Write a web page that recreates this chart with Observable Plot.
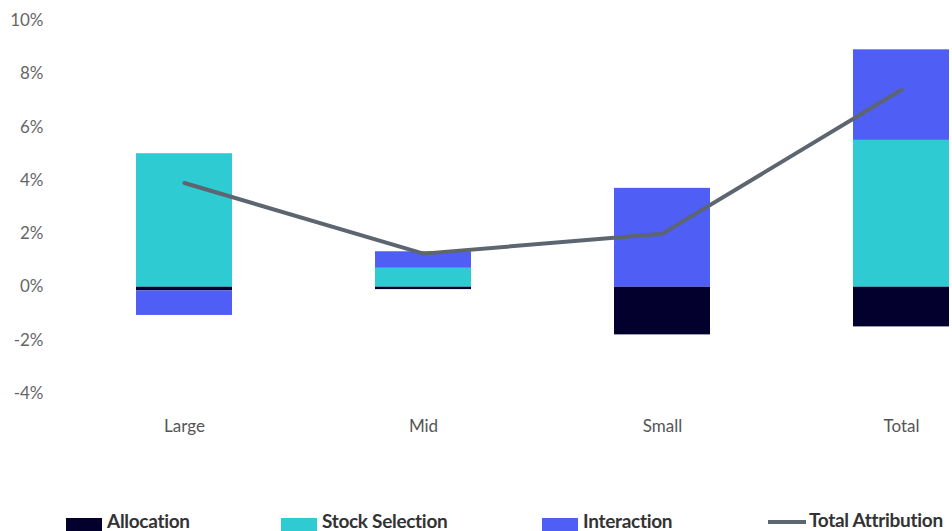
<!DOCTYPE html>
<html>
<head>
<meta charset="utf-8">
<script src="https://cdn.jsdelivr.net/npm/d3@7"></script>
<script src="https://cdn.jsdelivr.net/npm/@observablehq/plot@0.6"></script>
<style>
  html, body { margin: 0; padding: 0; background: #fff; }
  body { width: 952px; height: 531px; overflow: hidden; position: relative; font-family: "Source Sans Pro", Lato, "Open Sans", sans-serif; }
  #chart { position: absolute; left: 0; top: 0; }
  #legend { position: absolute; left: 0; top: 508px; width: 1100px; height: 30px; }
  .item { position: absolute; top: 0; display: flex; align-items: center; white-space: nowrap; font-weight: bold; font-size: 19px; color: #333; letter-spacing: -0.3px; }
  .sw { display: inline-block; width: 36px; height: 14px; margin-right: 5px; margin-top: 10px; }
  .ln { display: inline-block; width: 38px; height: 4px; margin-right: 3px; margin-top: 4px; }
</style>
</head>
<body>
<div id="chart"></div>
<div id="legend"></div>
<script>
const categories = ["Large", "Mid", "Small", "Total"];
const seriesNames = ["Allocation", "Stock Selection", "Interaction"];
const allocation = [-0.15, -0.1, -1.8, -1.5];
const stockSelection = [5.0, 0.7, 0.0, 5.5];
const interaction = [-0.92, 0.62, 3.7, 3.4];
const totalAttribution = [3.9, 1.25, 2.0, 7.4];
const yTicks = [-4, -2, 0, 2, 4, 6, 8, 10];
const colors = ["#03002e", "#2ecbd2", "#4f5ef5"];
const lineColor = "#5c6570";

const seriesValues = [allocation, stockSelection, interaction];
const bars = [];
categories.forEach((c, i) => {
  seriesNames.forEach((s, j) => {
    bars.push({category: c, series: s, value: seriesValues[j][i]});
  });
});
const totals = categories.map((c, i) => ({category: c, value: totalAttribution[i]}));

const chart = Plot.plot({
  width: 952,
  height: 453,
  marginTop: 20,
  marginBottom: 60,
  marginLeft: 63,
  marginRight: 0,
  style: {fontFamily: "'Source Sans Pro', Lato, 'Open Sans', sans-serif", fontSize: "17px", color: "#555", background: "transparent"},
  x: {domain: categories, range: [63, 1022], paddingInner: 0.6, paddingOuter: 0.3, label: null},
  y: {domain: [-4, 10], label: null},
  color: {domain: seriesNames, range: colors},
  marks: [
    Plot.barY(bars, Plot.stackY({x: "category", y: "value", fill: "series", order: seriesNames})),
    Plot.line(totals, {x: "category", y: "value", stroke: lineColor, strokeWidth: 4}),
    Plot.axisY({ticks: yTicks, tickFormat: d => d + "%", tickSize: 0, tickPadding: 20, fill: "#666", label: null}),
    Plot.axisX({tickSize: 0, tickPadding: 26, fill: "#555", label: null})
  ]
});
document.getElementById("chart").appendChild(chart);

const legend = document.getElementById("legend");
const lefts = [66, 281, 542, 768];
seriesNames.forEach((s, j) => {
  const d = document.createElement("div");
  d.className = "item";
  d.style.left = lefts[j] + "px";
  d.innerHTML = `<span class="sw" style="background:${colors[j]}"></span><span>${s}</span>`;
  legend.appendChild(d);
});
const t = document.createElement("div");
t.className = "item";
t.style.left = lefts[3] + "px";
t.innerHTML = `<span class="ln" style="background:${lineColor}"></span><span>Total Attribution</span>`;
legend.appendChild(t);
</script>
</body>
</html>
